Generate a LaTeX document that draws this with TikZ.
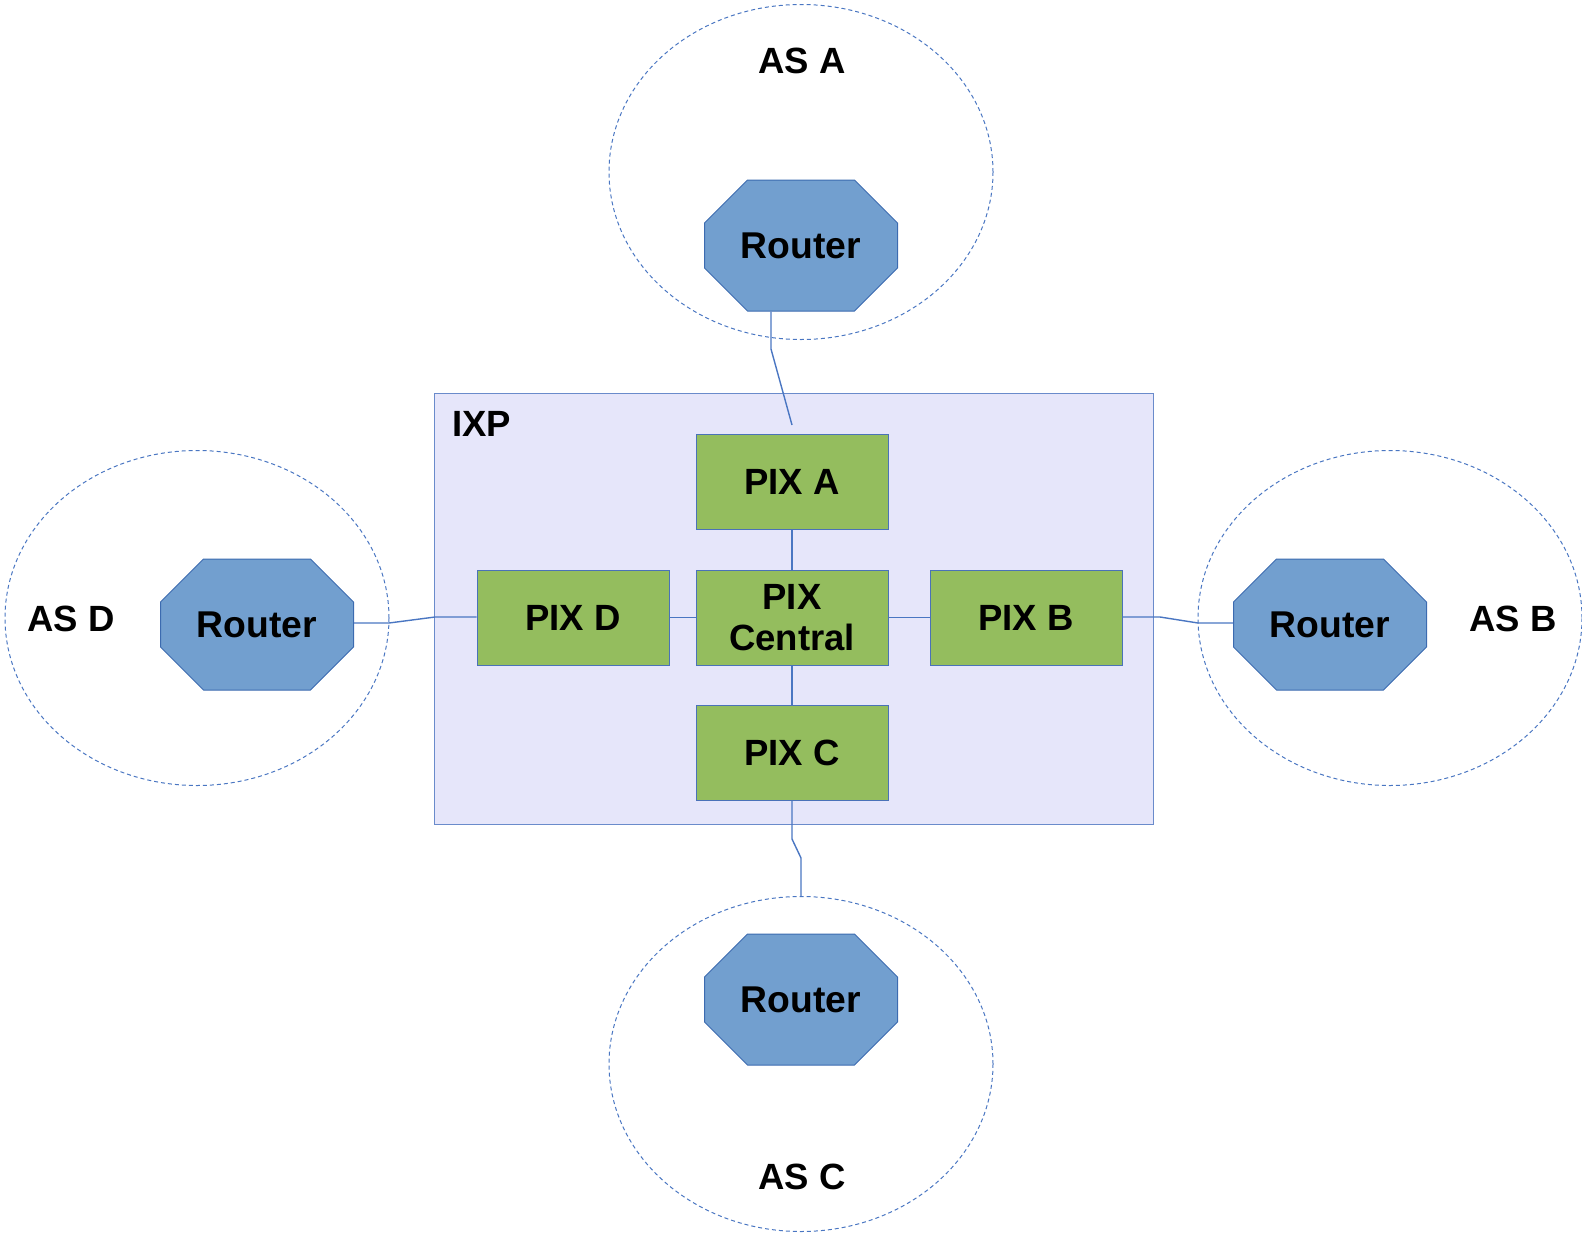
\documentclass[tikz,border=0pt]{standalone}
\usepackage{fontspec}
\setmainfont{Liberation Sans}
\usetikzlibrary{shapes.misc,shapes.geometric}
\definecolor{routerfill}{HTML}{729FCF}
\definecolor{routerline}{HTML}{3C6BB0}
\definecolor{pixfill}{HTML}{94BD5E}
\definecolor{pixline}{HTML}{4A72B8}
\definecolor{ixpfill}{HTML}{E6E6FA}
\definecolor{ixpline}{HTML}{6A8BCB}
\definecolor{wire}{HTML}{4A76C2}
\begin{document}
\begin{tikzpicture}[x=1pt,y=-1pt,
  lbl/.style={font=\fontsize{36.5}{42}\selectfont\bfseries, inner sep=0pt, align=center},
  router/.style={lbl, font=\fontsize{37.3}{42}\selectfont\bfseries, shape=chamfered rectangle, chamfered rectangle xsep=29pt, chamfered rectangle ysep=30pt,
    minimum width=193pt, minimum height=131pt, fill=routerfill, draw=routerline, line width=1pt},
  pix/.style={lbl, rectangle, minimum width=192pt, minimum height=95pt, fill=pixfill, draw=pixline, line width=1pt},
  asellipse/.style={ellipse, draw=wire, line width=1pt, dash pattern=on 4pt off 3pt, minimum width=384pt, minimum height=335pt, inner sep=0pt},
  wirestyle/.style={draw=wire, line width=1.4pt}
]
\useasboundingbox (0,0) rectangle (1582,1232);
% AS ellipses
\node[asellipse] (ellA) at (801,172) {};
\node[asellipse] (ellD) at (197,618) {};
\node[asellipse] (ellB) at (1390,618) {};
\node[asellipse] (ellC) at (801,1064) {};
% IXP box
\node[rectangle, fill=ixpfill, draw=ixpline, line width=1pt, minimum width=719pt, minimum height=431pt, inner sep=0pt] (ixp) at (793.5,608.5) {};
\node[lbl, anchor=west] (ixplbl) at (452,424) {IXP};
% labels
\node[lbl] (asA) at (802,61) {AS A};
\node[lbl] (asD) at (71,619) {AS D};
\node[lbl] (asB) at (1513,619) {AS B};
\node[lbl] (asC) at (802,1177) {AS C};
% routers
\node[router] (rA) at (801,245.5) {Router};
\node[router] (rD) at (257,624.5) {Router};
\node[router] (rB) at (1330,624.5) {Router};
\node[router] (rC) at (801,999.5) {Router};
% PIX
\node[pix] (pA) at (792,481.5) {PIX A};
\node[pix] (pC0) at (792,617.5) {PIX\\[-1pt]Central};
\node[pix] (pD) at (573,617.5) {PIX D};
\node[pix] (pB) at (1026,617.5) {PIX B};
\node[pix] (pC) at (792,753) {PIX C};
% connectors inside IXP
\draw[wirestyle] (pA) -- (pC0);
\draw[wirestyle] (pC0) -- (pC);
\draw[wirestyle] (pD) -- (pC0);
\draw[wirestyle] (pC0) -- (pB);
% outer connectors
\coordinate (a1) at (771,349);
\coordinate (a2) at (792,425);
\draw[wirestyle] (rA.south -| a1) -- (a1) -- (a2);
\coordinate (d1) at (389,623);
\coordinate (d2) at (435,617);
\draw[wirestyle] (rD.east |- d1) -- (d1) -- (d2) -- (pD.west |- d2);
\coordinate (b1) at (1160,617);
\coordinate (b2) at (1198,623);
\draw[wirestyle] (pB.east |- b1) -- (b1) -- (b2) -- (rB.west |- b2);
\coordinate (c1) at (792,839);
\coordinate (c2) at (801,858);
\draw[wirestyle] (pC.south) -- (c1) -- (c2) -- (ellC.north);
\end{tikzpicture}
\end{document}
